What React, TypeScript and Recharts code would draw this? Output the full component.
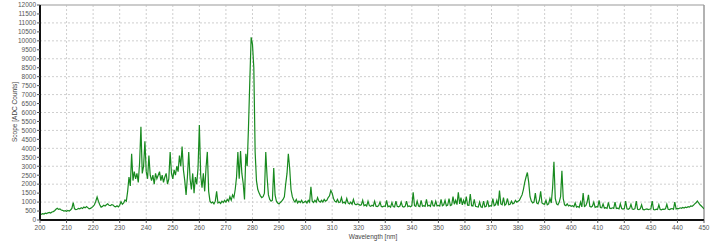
import React from "react";
import { LineChart, Line, XAxis, YAxis, CartesianGrid, ReferenceLine } from "recharts";

// Spectrum sampled every 0.5 nm, one array per 50 nm block
const WL_START = 200;
const WL_STEP = 0.5;

const counts200 = [
  280, 320, 350, 330, 380, 360, 400, 420, 390, 450, 470, 520, 600, 650, 590, 620, 560, 540, 500, 520,
  490, 530, 500, 560, 650, 970, 620, 580, 600, 650, 620, 680, 640, 720, 680, 750, 690, 620, 650, 700,
  760, 850, 1050, 1280, 1050, 850, 720, 760, 820, 780, 850, 900, 820, 800, 860, 840, 760, 740, 790, 730,
  820, 1020, 880, 960, 1120, 1050, 1600, 2400, 1900, 3700, 2200, 2700, 2300, 2600, 2100, 3200, 5200, 2600, 3000, 4400,
  2700, 2300, 3600, 2500, 2200, 2500, 2000, 2600, 2300, 2500, 2700, 2200, 2500, 2100, 2400, 2600, 2000, 2300, 3800, 2600,
];
const counts250 = [
  2300, 2800, 2500, 3000, 2700, 3600, 3000, 4100, 2800, 2200, 1400, 2400, 3800, 2300, 1700, 2600, 1500, 2400, 2000, 2900,
  5300, 2500, 1800, 2600, 1600, 2900, 3800, 1600, 1050, 950, 1000, 900, 1050, 1600, 950, 1000, 920, 1050, 980, 1100,
  1000, 1150, 1050, 1300, 1100, 1400, 1250, 1700, 2400, 3800, 2300, 3850, 2600, 2050, 1150, 3700, 3000, 5200, 7800, 10200,
  9800, 8500, 3800, 2200, 1700, 1500, 1350, 1250, 1300, 1500, 3800, 2400, 1400, 1150, 1050, 1100, 2900, 1400, 1050, 950,
  900, 980, 1050, 1150, 1300, 2000, 2600, 3700, 2900, 1700, 1300, 1100, 1000, 1150, 950, 1050, 980, 1100, 950, 1000,
];
const counts300 = [
  1050, 950, 1100, 1000, 1850, 1050, 980, 1100, 1000, 1250, 1050, 1000, 1100, 1000, 1150, 1050, 1100, 1250, 1350, 1650,
  1500, 1200, 1050, 1000, 1150, 980, 1000, 1250, 950, 1000, 920, 1200, 950, 900, 1000, 880, 1150, 900, 850, 900,
  880, 820, 850, 1100, 800, 850, 780, 1050, 800, 760, 820, 780, 1050, 770, 750, 800, 1000, 760, 740, 780,
  760, 1100, 740, 780, 720, 980, 750, 730, 1050, 760, 740, 780, 1000, 750, 720, 770, 1050, 750, 780, 740,
  800, 1550, 800, 760, 1050, 780, 750, 1100, 770, 800, 760, 1150, 780, 820, 760, 1100, 800, 780, 1050, 790,
];
const counts350 = [
  820, 780, 1150, 800, 850, 1100, 790, 830, 1200, 810, 850, 1300, 880, 1100, 860, 1550, 900, 1250, 850, 1100,
  870, 1300, 830, 820, 1450, 800, 780, 1150, 760, 740, 720, 1000, 740, 700, 1050, 730, 760, 1100, 750, 800,
  780, 1200, 800, 850, 1100, 800, 1650, 900, 850, 1250, 820, 900, 1200, 850, 880, 1050, 900, 950, 1100, 1000,
  1050, 1100, 1250, 1400, 1700, 2100, 2400, 2650, 2100, 1300, 1050, 950, 1000, 1500, 950, 900, 1100, 1600, 950, 900,
  880, 1100, 850, 900, 1200, 950, 1800, 3250, 1200, 900, 850, 1000, 1300, 2750, 1200, 850, 800, 900, 780, 820,
];
const counts400 = [
  760, 800, 740, 950, 720, 760, 700, 1000, 730, 1500, 750, 800, 1000, 1400, 760, 720, 780, 1000, 700, 740,
  720, 1100, 700, 680, 900, 660, 690, 650, 980, 660, 640, 680, 650, 1000, 640, 660, 620, 900, 640, 610,
  640, 1050, 620, 600, 650, 880, 610, 590, 630, 1050, 600, 580, 620, 850, 590, 570, 600, 620, 580, 600,
  620, 1050, 580, 560, 600, 580, 850, 590, 570, 610, 590, 620, 880, 600, 580, 620, 640, 600, 1000, 620,
  650, 630, 680, 650, 700, 670, 720, 690, 740, 720, 780, 760, 820, 900, 960, 1060, 950, 850, 780, 700,
  620,
];

const xTicks = [200, 210, 220, 230, 240, 250, 260, 270, 280, 290, 300, 310, 320, 330, 340, 350, 360, 370, 380, 390, 400, 410, 420, 430, 440, 450];
const yTicks = [0, 500, 1000, 1500, 2000, 2500, 3000, 3500, 4000, 4500, 5000, 5500, 6000, 6500, 7000, 7500, 8000, 8500, 9000, 9500, 10000, 10500, 11000, 11500, 12000];
const yGrid = [1000, 2000, 3000, 4000, 5000, 6000, 7000, 8000, 9000, 10000, 11000];
const xGrid = [210, 220, 230, 240, 250, 260, 270, 280, 290, 300, 310, 320, 330, 340, 350, 360, 370, 380, 390, 400, 410, 420, 430, 440];

const allCounts = [...counts200, ...counts250, ...counts300, ...counts350, ...counts400];
const data = allCounts.map((c, i) => ({ wl: WL_START + i * WL_STEP, c }));

const tickStyle = { fontSize: 6.5, fill: "#555", fontFamily: "Liberation Sans, Arial, sans-serif" };

export default function App() {
  return (
    <div style={{ position: "absolute", left: 0, top: 0, width: 718, height: 243, background: "#fff" }}>
      <LineChart width={718} height={243} data={data} margin={{ top: 5, right: 14, bottom: 0, left: 0 }}>
        <CartesianGrid
          stroke="#cfcfcf"
          strokeDasharray="2 2"
          horizontalValues={yGrid}
          verticalValues={xGrid}
        />
        <XAxis
          dataKey="wl"
          type="number"
          domain={[200, 450]}
          ticks={xTicks}
          height={23}
          tick={tickStyle}
          tickSize={3}
          tickMargin={2}
          axisLine={{ stroke: "#111", strokeWidth: 2 }}
          tickLine={{ stroke: "#555" }}
          interval={0}
          allowDataOverflow
        />
        <YAxis
          type="number"
          domain={[0, 12000]}
          ticks={yTicks}
          width={40}
          tick={tickStyle}
          tickSize={3}
          tickMargin={1}
          axisLine={{ stroke: "#111", strokeWidth: 2 }}
          tickLine={{ stroke: "#555" }}
          interval={0}
          allowDataOverflow
        />
        <ReferenceLine y={12000} stroke="#bbb" strokeWidth={1.5} />
        <ReferenceLine x={450} stroke="#999" strokeWidth={1.5} />
        <Line
          type="linear"
          dataKey="c"
          stroke="#188a1f"
          strokeWidth={1.2}
          dot={false}
          isAnimationActive={false}
        />
        <text x={14} y={112} transform="rotate(-90 14 112)" textAnchor="middle" dominantBaseline="central" style={{ fontSize: 6.5, fill: "#444", fontFamily: "Liberation Sans, Arial, sans-serif" }}>
          Scope [ADC Counts]
        </text>
        <text x={373} y={239} textAnchor="middle" style={{ fontSize: 6.5, fill: "#444", fontFamily: "Liberation Sans, Arial, sans-serif" }}>
          Wavelength [nm]
        </text>
      </LineChart>
    </div>
  );
}
